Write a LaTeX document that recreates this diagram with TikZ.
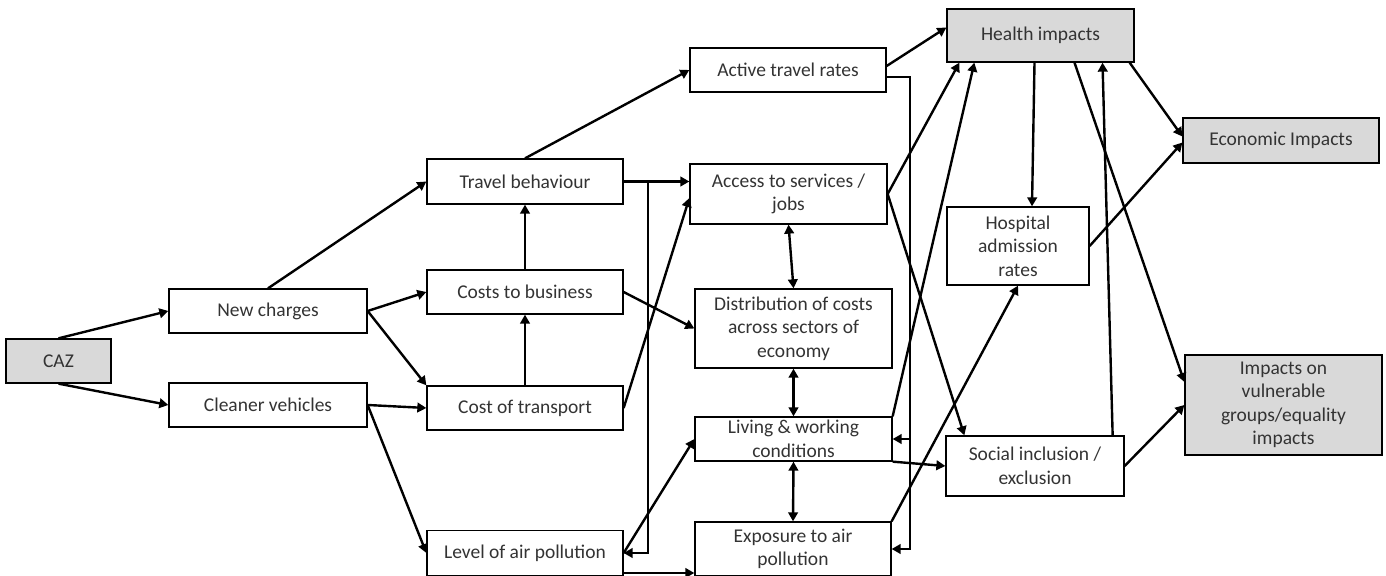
\documentclass[tikz,border=0pt]{standalone}
\usepackage{fontspec}
\setmainfont{Carlito}
\usetikzlibrary{arrows.meta}

\tikzset{
  box/.style={draw, line width=0.65pt, fill=white, align=center, inner sep=1pt,
    text=black!80, font=\fontsize{9.75}{11.7}\selectfont},
  keybox/.style={box, fill=gray!30},
  arr/.style={line width=1.2pt, -{Triangle[length=4.5pt,width=4.8pt]}},
  dblarr/.style={line width=1.2pt, {Triangle[length=4.5pt,width=4.8pt]}-{Triangle[length=4.5pt,width=4.8pt]}}
}

\begin{document}
\begin{tikzpicture}[x=0.5pt, y=-0.5pt]
  \useasboundingbox (0,0) rectangle (1386,576);

  % left column
  \node[keybox, minimum width=52.5pt, minimum height=22pt] (caz) at (58.5,361) {CAZ};
  \node[box, minimum width=99pt, minimum height=22pt] (newch) at (268,311) {New charges};
  \node[box, minimum width=99pt, minimum height=22pt] (cleaner) at (268,405) {Cleaner vehicles};

  % second column
  \node[box, minimum width=98pt, minimum height=22.5pt] (travel) at (525,181.5) {Travel behaviour};
  \node[box, minimum width=98pt, minimum height=22pt] (costbus) at (525,292) {Costs to business};
  \node[box, minimum width=98pt, minimum height=22pt] (costtr) at (525,408) {Cost of transport};
  \node[box, minimum width=98pt, minimum height=22.5pt] (airlev) at (525,553) {Level of air pollution};

  % middle column
  \node[box, minimum width=98pt, minimum height=22pt] (active) at (788,70) {Active travel rates};
  \node[box, minimum width=98.5pt, minimum height=30pt] (access) at (788.5,194) {Access to services /\\jobs};
  \node[box, minimum width=98.5pt, minimum height=39.5pt] (distr) at (793.5,328.5) {Distribution of costs\\across sectors of\\economy};
  \node[box, minimum width=98.5pt, minimum height=22pt] (living) at (793.5,439) {Living \& working\\conditions};
  \node[box, minimum width=98pt, minimum height=27pt] (expo) at (793,549) {Exposure to air\\pollution};

  % right side
  \node[keybox, minimum width=93.5pt, minimum height=26.5pt] (health) at (1040.5,35.5) {Health impacts};
  \node[keybox, minimum width=98pt, minimum height=22.5pt] (econ) at (1281,140.5) {Economic Impacts};
  \node[box, minimum width=71pt, minimum height=39pt] (hosp) at (1018,246) {Hospital\\admission\\rates};
  \node[box, minimum width=89pt, minimum height=30pt] (social) at (1035,466) {Social inclusion /\\exclusion};
  \node[keybox, minimum width=98.5pt, minimum height=50pt] (vuln) at (1283.5,405) {Impacts on\\vulnerable\\groups/equality\\impacts};

  % bend points
  \coordinate (tbj) at (648,181.5);
  \coordinate (atj) at (910,77);

  \draw[arr] (caz.north) -- (newch.west);
  \draw[arr] (caz.south) -- (cleaner.west);
  \draw[arr] (newch.north) -- (travel.west);
  \draw[arr] (newch.east) -- (costbus.west);
  \draw[arr] (newch.east) -- (costtr.north west);
  \draw[arr] (cleaner.east) -- (costtr.west);
  \draw[arr] (cleaner.east) -- (airlev.west);
  \draw[arr] (costtr.north) -- (costbus.south);
  \draw[arr] (costbus.north) -- (travel.south);
  \draw[arr] (travel.north) -- (active.west);
  \draw[arr] (travel.east) -- (access.west |- travel.east);
  \draw[arr] (travel.east) -- (tbj) |- (airlev.east);
  \draw[arr] (costbus.east) -- (distr.west);
  \draw[arr] (costtr.east) -- ([yshift=-2pt]access.west);
  \draw[arr] (airlev.east) -- (living.west);
  \draw[arr] ([yshift=-10pt]airlev.east) -- ([yshift=-12pt]expo.west);

  \draw[dblarr] (access.south) -- (distr.north);
  \draw[dblarr] (distr.south) -- (living.north);
  \draw[dblarr] (living.south) -- (expo.north);

  \draw[arr] (active.east |- atj) -- (atj) |- (living.east);
  \draw[arr] (atj) |- (expo.east);
  \draw[arr] ([yshift=2pt]active.east) -- ([yshift=4pt]health.west);
  \draw[arr] (access.east) -- ([xshift=6.5pt]health.south west);
  \draw[arr] (access.east) -- ([xshift=9.5pt]social.north west);
  \draw[arr] (living.north east) -- ([xshift=14pt]health.south west);
  \draw[arr] (living.south east) -- (social.west);
  \draw[arr] (expo.north east) -- (hosp.south);

  \draw[arr] ([xshift=-3pt]health.south) -- ([xshift=7pt]hosp.north);
  \draw[arr] ([xshift=17pt]health.south) -- ([yshift=11.5pt]vuln.west);
  \draw[arr] ([xshift=-6pt]social.north east) -- ([xshift=31pt]health.south);
  \draw[arr] ([xshift=-2.5pt]health.south east) -- ([yshift=2pt]econ.west);
  \draw[arr] (hosp.east) -- ([yshift=-1pt]econ.west);
  \draw[arr] (social.east) -- (vuln.west);
\end{tikzpicture}
\end{document}
